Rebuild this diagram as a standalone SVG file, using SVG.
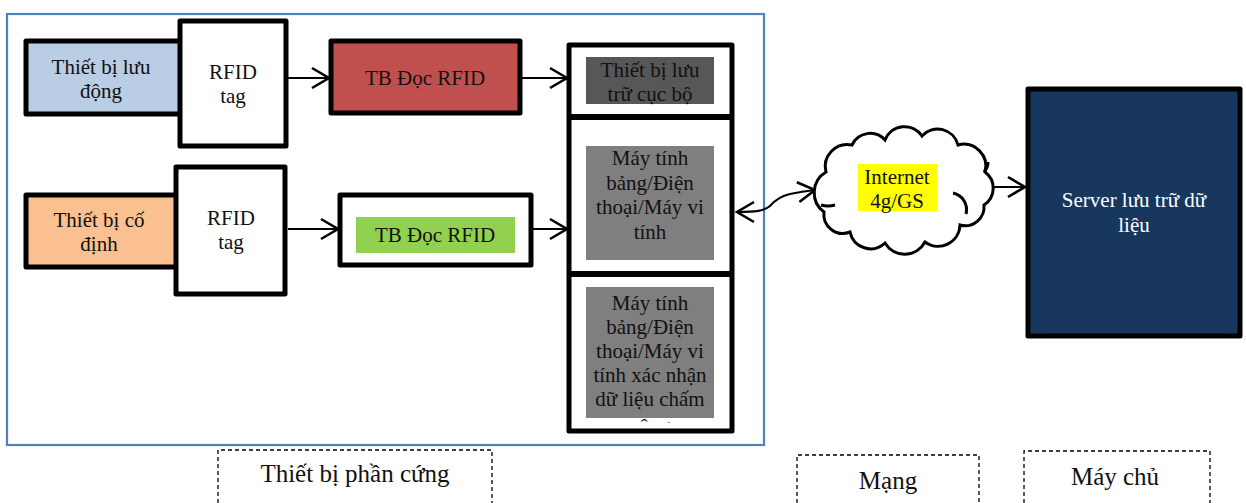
<svg xmlns="http://www.w3.org/2000/svg" width="1246" height="503" viewBox="0 0 1246 503">
<style>
.t{font-family:"Liberation Serif","Times New Roman",serif;font-size:21px;fill:#111;text-anchor:middle}
.w{fill:#fff}
.b{stroke:#000;stroke-width:5;stroke-linejoin:round}
.c{fill:none;stroke:#000;stroke-width:2.2}
.d{fill:none;stroke:#000;stroke-width:1.3;stroke-dasharray:4 3}
.lbl{font-size:25px}
</style>
<defs>
<marker id="ah" markerUnits="userSpaceOnUse" markerWidth="22" markerHeight="26" refX="19" refY="12" orient="auto-start-reverse" viewBox="0 0 22 26">
<path d="M2,2 L19,12 L2,22" fill="none" stroke="#000" stroke-width="2.6"/>
</marker>
<clipPath id="cp3"><rect x="570" y="276" width="161" height="147"/></clipPath>
</defs>
<rect x="7" y="14" width="757" height="431" fill="#fff" stroke="#4F81BD" stroke-width="2.2"/>
<g id="connectors">
<path class="c" d="M288,78 L329,78" marker-end="url(#ah)"/>
<path class="c" d="M522,78 L567,78" marker-end="url(#ah)"/>
<path class="c" d="M288,229 L338,229" marker-end="url(#ah)"/>
<path class="c" d="M533,229 L567,229" marker-end="url(#ah)"/>
<path class="c" d="M737,212 C756,212 764,211 770,206 C776,199 781,196 790,194 C800,192 807,191 815,190" marker-start="url(#ah)" marker-end="url(#ah)"/>
<path class="c" d="M992,187 L1025,187" marker-end="url(#ah)"/>
</g>
<g id="n-mobile"><rect class="b" x="26" y="41" width="160" height="73" fill="#B9CDE5"/>
<text class="t" x="101" y="74">Thiết bị lưu</text><text class="t" x="101" y="98">động</text></g>
<g id="n-tag1"><rect class="b w" x="180" y="21" width="106" height="125"/>
<text class="t" x="233" y="79">RFID</text><text class="t" x="233" y="103">tag</text></g>
<g id="n-reader1"><rect class="b" x="331" y="41" width="189" height="72" fill="#C0504D"/>
<text class="t" x="425" y="85">TB Đọc RFID</text></g>
<g id="n-fixed"><rect class="b" x="26" y="195" width="155" height="72" fill="#FAC090"/>
<text class="t" x="99" y="227">Thiết bị cố</text><text class="t" x="99" y="251">định</text></g>
<g id="n-tag2"><rect class="b w" x="176" y="167" width="109" height="127"/>
<text class="t" x="231" y="225">RFID</text><text class="t" x="231" y="249">tag</text></g>
<g id="n-reader2"><rect class="b w" x="340" y="195" width="191" height="70"/>
<rect x="356" y="217" width="159" height="36" fill="#92D050"/>
<text class="t" x="435" y="242">TB Đọc RFID</text></g>
<g id="n-devices">
<rect class="b w" x="569" y="45" width="163" height="386"/>
<line x1="569" y1="117" x2="732" y2="117" stroke="#000" stroke-width="6"/>
<line x1="569" y1="274" x2="732" y2="274" stroke="#000" stroke-width="6"/>
<rect x="586" y="57" width="128" height="47" fill="#575757"/>
<text class="t" x="650" y="77">Thiết bị lưu</text><text class="t" x="650" y="101">trữ cục bộ</text>
<rect x="586" y="146" width="128" height="114" fill="#7F7F7F"/>
<text class="t" x="650" y="165">Máy tính</text><text class="t" x="650" y="190">bảng/Điện</text><text class="t" x="650" y="214">thoại/Máy vi</text><text class="t" x="650" y="239">tính</text>
<rect x="586" y="287" width="128" height="131" fill="#7F7F7F"/>
<g clip-path="url(#cp3)"><text class="t" x="650" y="310">Máy tính</text><text class="t" x="650" y="334">bảng/Điện</text><text class="t" x="650" y="358">thoại/Máy vi</text><text class="t" x="650" y="382">tính xác nhận</text><text class="t" x="650" y="406">dữ liệu chấm</text><text class="t" x="650" y="433">công</text></g>
</g>
<g id="n-internet">
<path d="M826,172 A22,22 0 0,1 852,145 A20,20 0 0,1 885,140 A21,21 0 0,1 922,136 A21,21 0 0,1 958,145 A22,22 0 0,1 985,172 A20,20 0 0,1 984,205 A19,19 0 0,1 960,225 A22,22 0 0,1 925,242 A23,23 0 0,1 885,243 A21,21 0 0,1 850,232 A19,19 0 0,1 824,212 A24,24 0 0,1 826,172 Z" fill="#fff" stroke="#000" stroke-width="3"/>
<path d="M953,193 A17,17 0 0,1 966,214 M821,205 Q828,207 835,205 M984,172 Q988,168 988,162" fill="none" stroke="#000" stroke-width="3"/>
<rect x="858" y="164" width="79" height="47" fill="#FFFF00"/>
<text class="t" x="897" y="184">Internet</text><text class="t" x="897" y="208">4g/GS</text>
</g>
<g id="n-server"><rect class="b" x="1028" y="89" width="212" height="247" fill="#17375E"/>
<text class="t w" x="1134" y="207">Server lưu trữ dữ</text><text class="t w" x="1134" y="232">liệu</text></g>
<g id="l-hw"><path class="d" d="M218,503 L218,450 L492,450 L492,503"/><text class="t lbl" x="355" y="482">Thiết bị phần cứng</text></g>
<g id="l-net"><path class="d" d="M797,503 L797,455 L979,455 L979,503"/><text class="t lbl" x="888" y="489">Mạng</text></g>
<g id="l-srv"><path class="d" d="M1024,503 L1024,451 L1210,451 L1210,503"/><text class="t lbl" x="1115" y="485">Máy chủ</text></g>
</svg>
